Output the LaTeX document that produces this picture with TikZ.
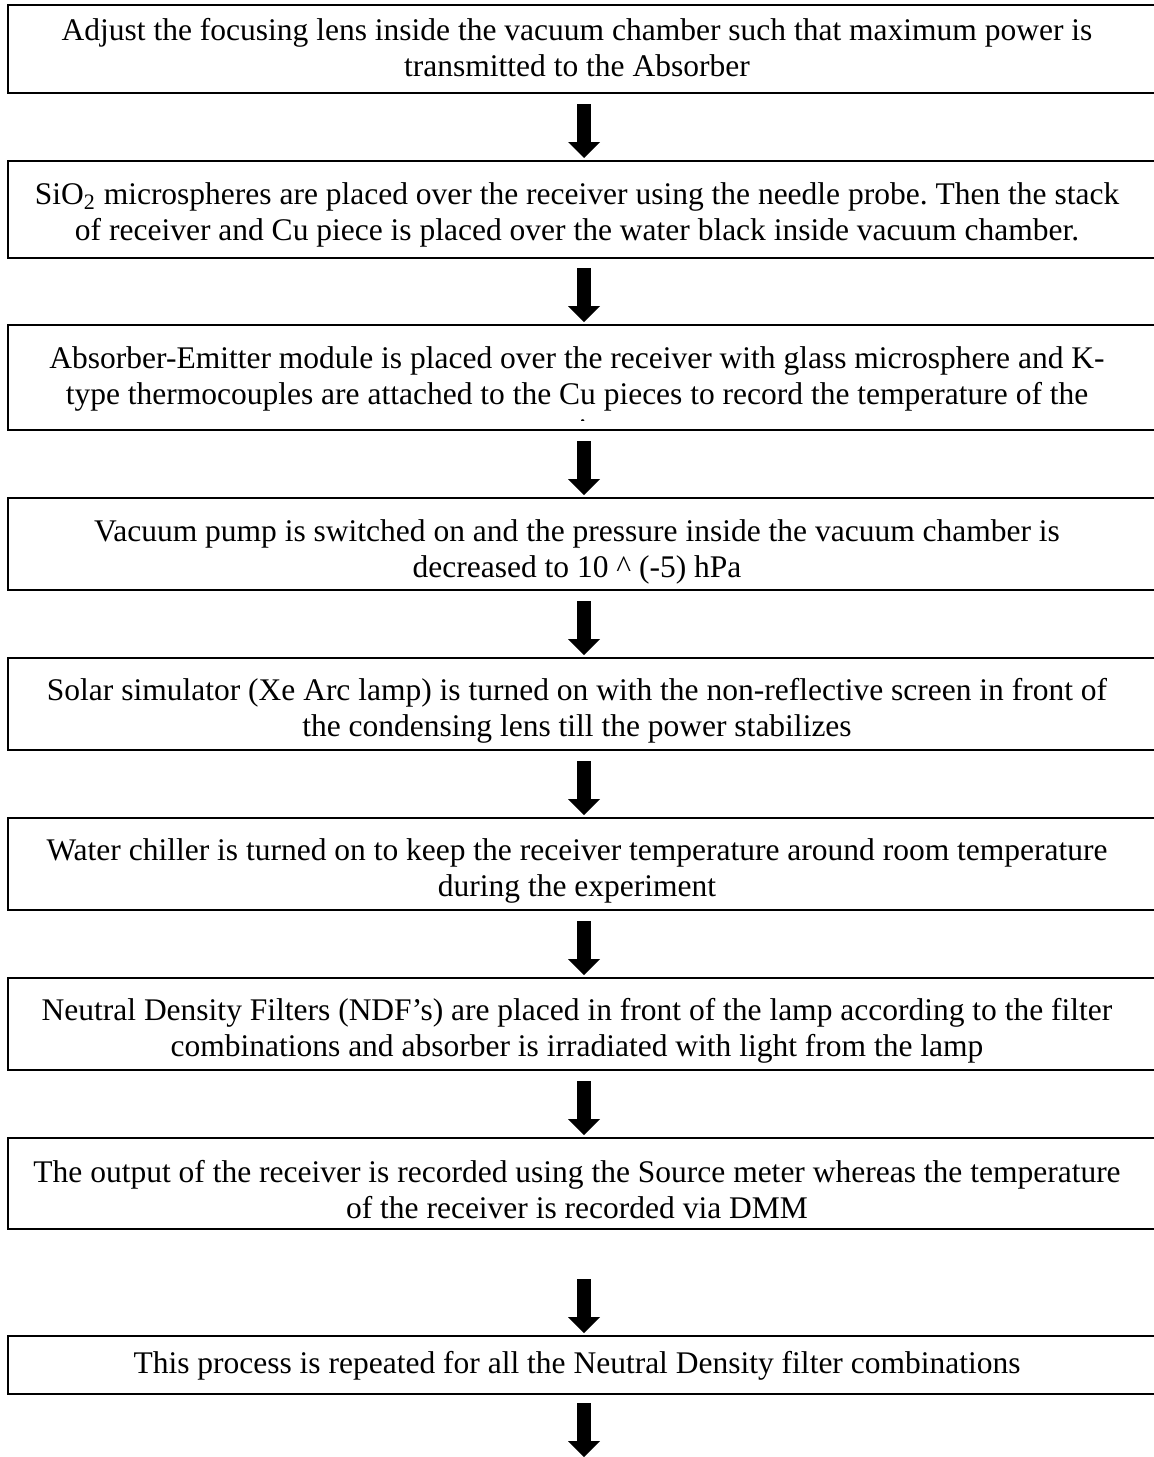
\documentclass[tikz,border=0pt]{standalone}
\usepackage{fontspec}
\setmainfont{Liberation Serif}
\usetikzlibrary{fit,calc}
\frenchspacing
\tikzset{
  stepbox/.style={draw=black, line width=1pt, inner sep=0pt, outer sep=0pt},
  txt/.style={align=center, inner sep=0pt, font=\fontsize{15.75}{18}\selectfont},
}
\newcommand\flowarr[2]{%
  \fill let \p2=(#2.north) in
    (288.6pt,\y2+28.5pt) -- (295.4pt,\y2+28.5pt) -- (295.4pt,\y2+9.5pt) --
    (300pt,\y2+9.5pt) -- (292pt,\y2+1.5pt) -- (284pt,\y2+9.5pt) --
    (288.6pt,\y2+9.5pt) -- cycle;}
\begin{document}
\begin{tikzpicture}[x=0.5pt,y=-0.5pt]
\useasboundingbox (0,0) rectangle (1154,1457);
\clip (0,0) rectangle (1154,1457);
% boxes
\node[stepbox, fit={(8,5) (1157,93)}] (b1) {};
\node[stepbox, fit={(8,161) (1157,258)}] (b2) {};
\node[stepbox, fit={(8,325) (1157,430)}] (b3) {};
\node[stepbox, fit={(8,498) (1157,590)}] (b4) {};
\node[stepbox, fit={(8,658) (1157,750)}] (b5) {};
\node[stepbox, fit={(8,818) (1157,910)}] (b6) {};
\node[stepbox, fit={(8,978) (1157,1070)}] (b7) {};
\node[stepbox, fit={(8,1138) (1157,1229)}] (b8) {};
\node[stepbox, fit={(8,1336) (1157,1394)}] (b9) {};
\node[inner sep=0pt, outer sep=0pt, minimum size=0pt] (end) at (584,1460) {};
% texts
\node[txt] (t1) at (577,48) {Adjust the focusing lens inside the vacuum chamber such that maximum power is\\transmitted to the Absorber};
\node[txt] (t2) at (577,215) {SiO\textsubscript{2} microspheres are placed over the receiver using the needle probe. Then the stack\\of receiver and Cu piece is placed over the water black inside vacuum chamber.};
\begin{scope}
\clip (8,325) rectangle (1157,420.5);
\node[txt] (t3) at (577,394) {Absorber-Emitter module is placed over the receiver with glass microsphere and K-\\type thermocouples are attached to the Cu pieces to record the temperature of the\\receiver};
\end{scope}
\node[txt] (t4) at (577,552) {Vacuum pump is switched on and the pressure inside the vacuum chamber is\\decreased to 10 \textasciicircum{} (-5) hPa};
\node[txt] (t5) at (577,711) {Solar simulator (Xe Arc lamp) is turned on with the non-reflective screen in front of\\the condensing lens till the power stabilizes};
\node[txt] (t6) at (577,871) {Water chiller is turned on to keep the receiver temperature around room temperature\\during the experiment};
\node[txt] (t7) at (577,1031) {Neutral Density Filters (NDF’s) are placed in front of the lamp according to the filter\\combinations and absorber is irradiated with light from the lamp};
\node[txt] (t8) at (577,1190) {The output of the receiver is recorded using the Source meter whereas the temperature\\of the receiver is recorded via DMM};
\node[txt] (t9) at (577,1366) {This process is repeated for all the Neutral Density filter combinations};
% arrows
\flowarr{b1}{b2}
\flowarr{b2}{b3}
\flowarr{b3}{b4}
\flowarr{b4}{b5}
\flowarr{b5}{b6}
\flowarr{b6}{b7}
\flowarr{b7}{b8}
\flowarr{b8}{b9}
\flowarr{b9}{end}
\end{tikzpicture}
\end{document}
